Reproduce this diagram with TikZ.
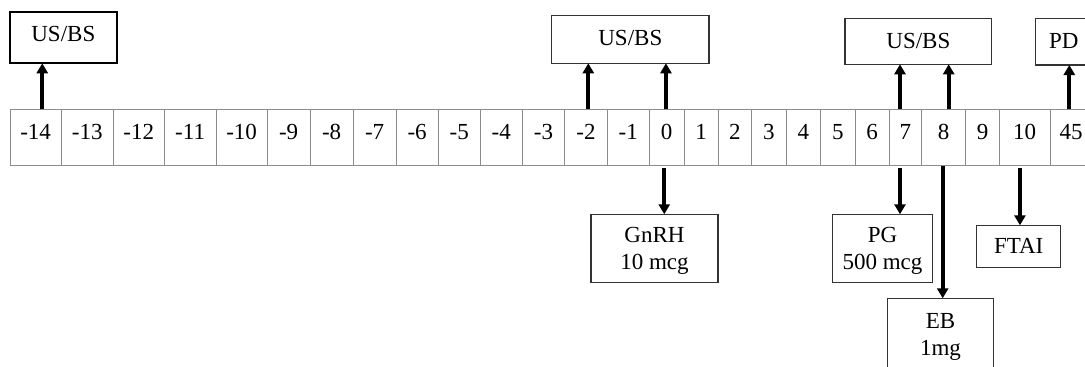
\documentclass[tikz,border=0pt]{standalone}
\usepackage{fontspec}
\setmainfont{Liberation Serif}
\usetikzlibrary{arrows.meta,calc}
\begin{document}
\begin{tikzpicture}[x=1pt,y=-1pt,
  every node/.style={font=\fontsize{23}{26.5}\selectfont},
  cell/.style={draw=black!45,line width=0.8pt,rectangle,inner sep=0pt,outer sep=0pt,
    anchor=base,text height=29.7pt,text depth=26.7pt},
  topbox/.style={draw=black!80,line width=1.3pt,rectangle,inner sep=0pt,outer sep=0pt,anchor=base},
  botbox/.style={draw=black!80,line width=1.3pt,rectangle,inner sep=0pt,outer sep=0pt,align=center,text depth=0pt},
  arr/.style={line width=3.8pt,-{Triangle[width=11pt,length=10pt]}}]
\useasboundingbox (0,0) rectangle (1085,367);
\clip (0,0) rectangle (1085,367);
% day cells
\foreach \l/\r/\t/\n in {10/61.3/-14/dm14, 61.3/113.3/-13/dm13, 113.3/164.3/-12/dm12,
  164.3/216/-11/dm11, 216/267.3/-10/dm10, 267.3/310/-9/dm9, 310/353.3/-8/dm8,
  353.3/396/-7/dm7, 396/438.3/-6/dm6, 438.3/480.3/-5/dm5, 480.3/522.3/-4/dm4,
  522.3/564.7/-3/dm3, 564.7/607.3/-2/dm2, 607.3/649.3/-1/dm1, 649.3/684/0/d0,
  684/718/1/d1, 718/751.7/2/d2, 751.7/786/3/d3, 786/820.7/4/d4, 820.7/855/5/d5,
  855/889.3/6/d6, 889.3/921.3/7/d7, 999.3/1050/10/d10, 965.7/999.3/9/d9, 1050/1092/45/d45}
  \node[cell,minimum width={(\r-\l)*1pt}] (\n) at ({(\l+\r)/2},139) {\t};
\node[cell,minimum width=44.4pt] (d8) at (943.5,139) {8\hspace{12pt}};
% upper boxes
\node[topbox,line width=1.9pt,draw=black,minimum width=106.7pt,text height=29.4pt,text depth=21.6pt] (us1) at (63.35,41.7) {US/BS};
\node[topbox,minimum width=157.3pt,text height=29.3pt,text depth=18.3pt] (us2) at (630.35,45) {US/BS};
\node[topbox,minimum width=146.7pt,text height=30pt,text depth=16pt] (us3) at (918.35,48.3) {US/BS};
\node[topbox,minimum width=56.3pt,text height=30pt,text depth=16.7pt] (pd) at (1063.85,48.3) {PD};
% lower boxes
\node[botbox,minimum width=127pt,minimum height=68.4pt] (gnrh) at (654.5,248.5) {GnRH\\10 mcg};
\node[botbox,minimum width=100.4pt,minimum height=68.4pt] (pg) at (882.5,248.5) {PG\\500 mcg};
\node[botbox,minimum width=105.6pt,minimum height=72pt] (eb) at (940.5,334.3) {EB\\1mg};
\node[botbox,minimum width=84pt,minimum height=42pt] (ftai) at (1018.7,246.3) {FTAI};
% up arrows
\draw[arr] ([xshift=6.6pt]dm14.north) -- ([xshift=6.6pt]dm14.north |- us1.south);
\draw[arr] ([xshift=2.3pt]dm2.north) -- ([xshift=2.3pt]dm2.north |- us2.south);
\draw[arr] ([xshift=-0.7pt]d0.north) -- ([xshift=-0.7pt]d0.north |- us2.south);
\draw[arr] ([xshift=-5.3pt]d7.north) -- ([xshift=-5.3pt]d7.north |- us3.south);
\draw[arr] ([xshift=5.2pt]d8.north) -- ([xshift=5.2pt]d8.north |- us3.south);
\draw[arr] ([xshift=-1.7pt]d45.north) -- ([xshift=-1.7pt]d45.north |- pd.south);
% down arrows
\draw[arr,shorten <=2pt] ([xshift=-2.4pt]d0.south) -- ([xshift=-2.4pt]d0.south |- gnrh.north);
\draw[arr,shorten <=2pt] ([xshift=-5.3pt]d7.south) -- ([xshift=-5.3pt]d7.south |- pg.north);
\draw[arr] ([xshift=-0.8pt]d8.south) -- ([xshift=-0.8pt]d8.south |- eb.north);
\draw[arr,shorten <=2pt] ([xshift=-4.7pt]d10.south) -- ([xshift=-4.7pt]d10.south |- ftai.north);
\end{tikzpicture}
\end{document}
